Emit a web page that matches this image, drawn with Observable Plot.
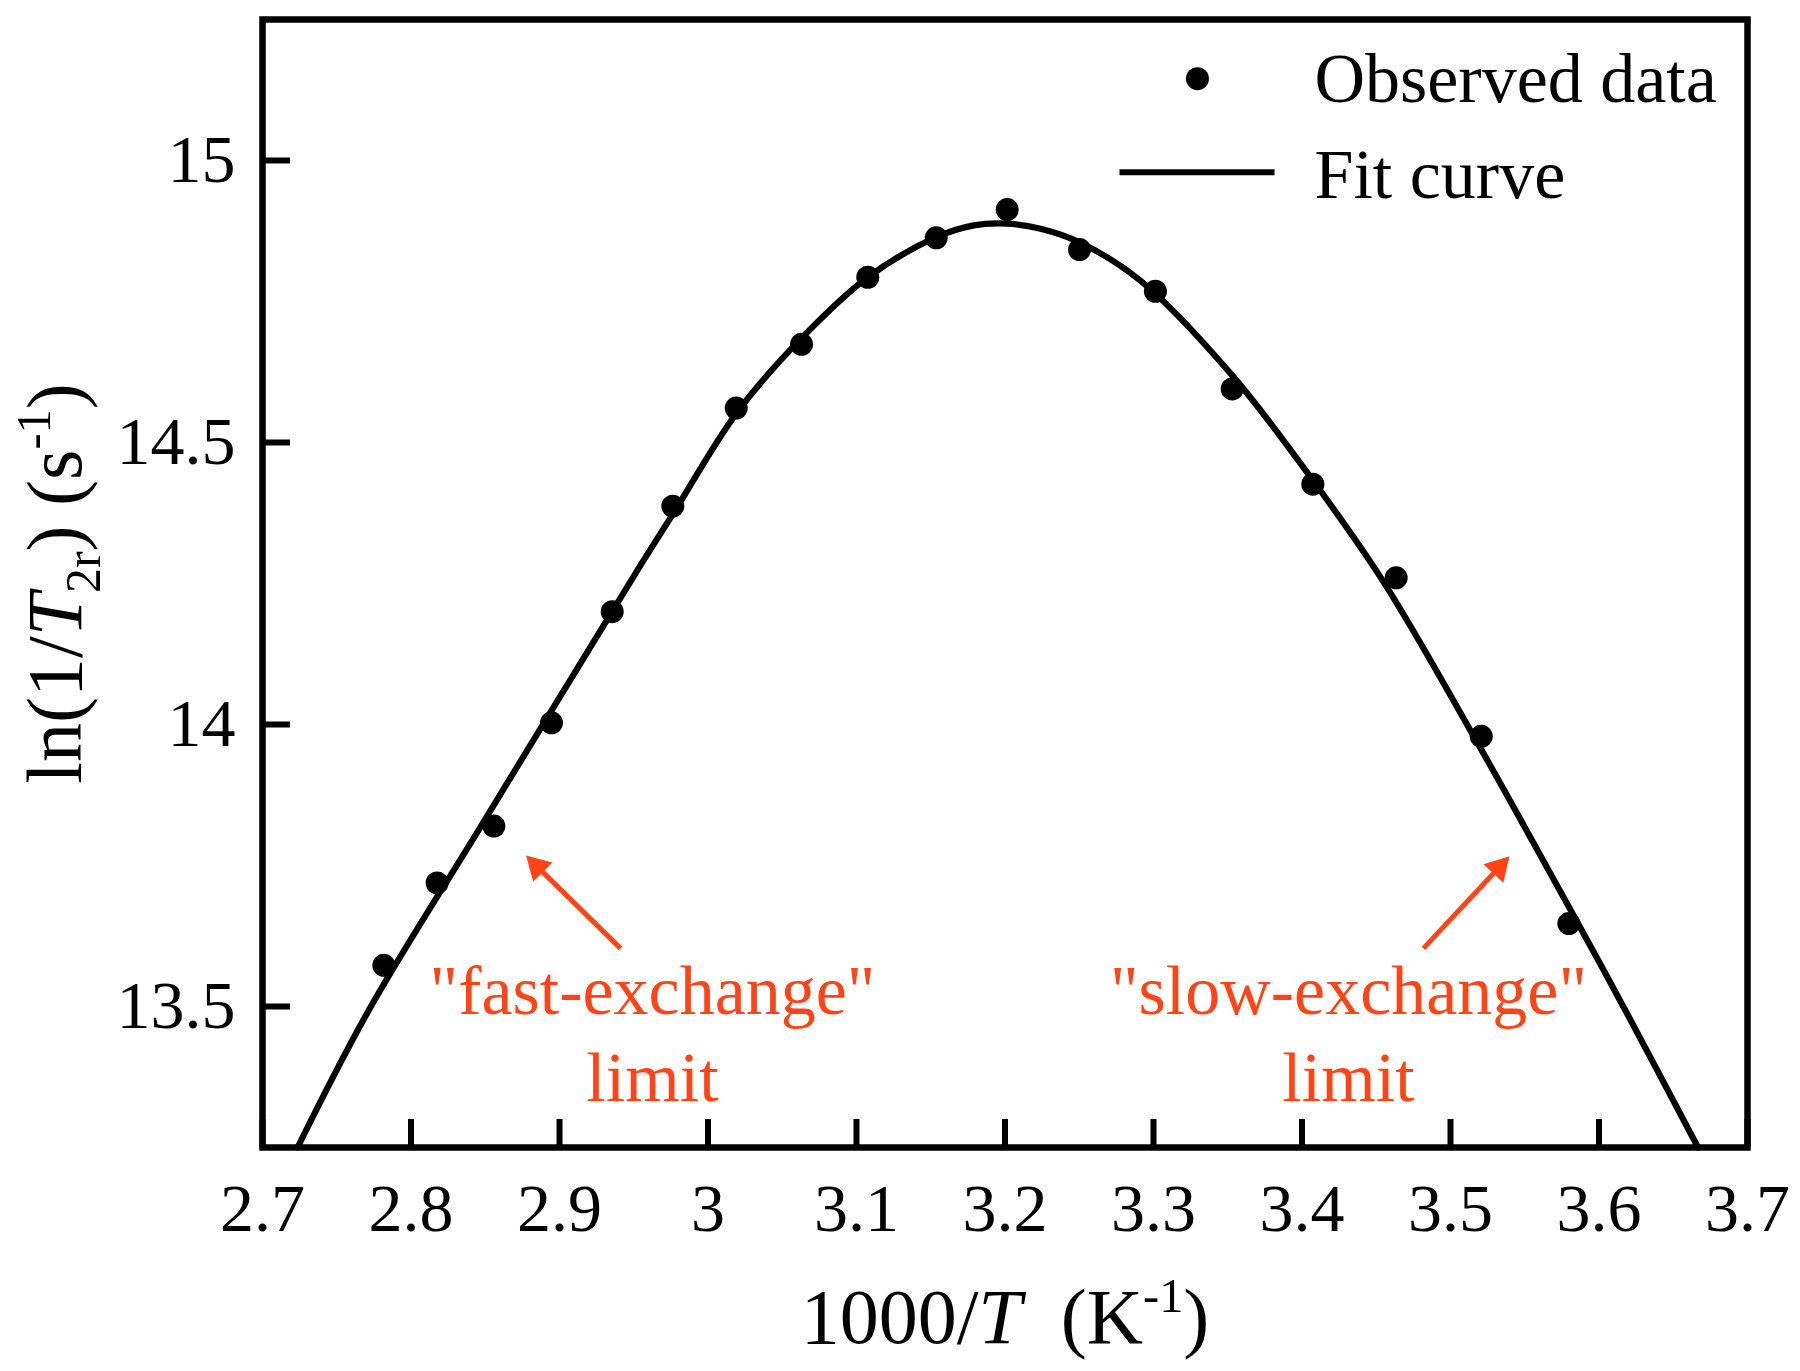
<!DOCTYPE html>
<html><head><meta charset="utf-8">
<script src="https://cdn.jsdelivr.net/npm/d3@7"></script>
<script src="https://cdn.jsdelivr.net/npm/@observablehq/plot@0.6"></script>
<style>html,body{margin:0;padding:0;background:#fff}#chart svg{display:block}</style>
</head><body><div id="chart"></div>
<script>
// Observed data (1000/T in K^-1, ln(1/T2r))
const obsX = [2.7817, 2.8176, 2.8558, 2.8946, 2.9355, 2.9763, 3.0190, 3.0630, 3.1076, 3.1537, 3.2015, 3.2502, 3.3013, 3.3530, 3.4073, 3.4634, 3.5207, 3.5797];
const obsY = [13.573, 13.719, 13.820, 14.003, 14.200, 14.387, 14.561, 14.674, 14.793, 14.863, 14.913, 14.842, 14.768, 14.595, 14.426, 14.260, 13.979, 13.647];
// Fit curve
const fitX = [2.7236, 2.7715, 2.8481, 2.9545, 2.9763, 3.0197, 3.0630, 3.1076, 3.1537, 3.1790, 3.2015, 3.2239, 3.2502, 3.2912, 3.3530, 3.4073, 3.4551, 3.5157, 3.5842, 3.6178, 3.6667];
const fitY = [13.250, 13.493, 13.824, 14.282, 14.373, 14.554, 14.685, 14.793, 14.864, 14.885, 14.888, 14.879, 14.855, 14.787, 14.619, 14.433, 14.252, 13.979, 13.655, 13.493, 13.250];
// Axes
const xTicks = [2.7, 2.8, 2.9, 3.0, 3.1, 3.2, 3.3, 3.4, 3.5, 3.6, 3.7];
const xTickLabels = ["2.7", "2.8", "2.9", "3", "3.1", "3.2", "3.3", "3.4", "3.5", "3.6", "3.7"];
const yTicks = [13.5, 14, 14.5, 15];
const yTickLabels = ["13.5", "14", "14.5", "15"];
// Legend
const legendLabels = ["Observed data", "Fit curve"];
const legendDotX = [3.3296], legendDotY = [15.145];
const legendLineX1 = [3.2771], legendLineX2 = [3.3815], legendLineY = [14.979];
const legendTextX = [3.4084, 3.4084], legendTextY = [15.144, 14.973];
// Annotations
const annotationTexts = ['"fast-exchange"\nlimit', '"slow-exchange"\nlimit'];
const annotationX = [2.9626, 3.4313];
const annotationY = [13.459, 13.459];
const arrowTailX = [2.9411, 3.4818], arrowTailY = [13.603, 13.603];
const arrowHeadX = [2.8850, 3.5325], arrowHeadY = [13.748, 13.746];
const arrowHeadAngle = [-45, 43];

const RED = "#ff4517";
const obs = obsX.map((x, i) => ({x, y: obsY[i]}));
const fit = fitX.map((x, i) => ({x, y: fitY[i]}));
const arrows = arrowTailX.map((x, i) => ({x1: x, y1: arrowTailY[i], x2: arrowHeadX[i], y2: arrowHeadY[i], rot: arrowHeadAngle[i]}));
const annotations = annotationTexts.map((t, i) => ({t, x: annotationX[i], y: annotationY[i]}));
const legendText = legendLabels.map((t, i) => ({t, x: legendTextX[i], y: legendTextY[i]}));

const FRAME_W = 1800 - 262 - 53, FRAME_H = 1371 - 19 - 224;

const chart = Plot.plot({
  width: 1800, height: 1371,
  marginLeft: 262, marginRight: 53, marginTop: 19, marginBottom: 224,
  style: {fontFamily: "'Liberation Serif', 'Times New Roman', serif", fontSize: "68px", background: "#fff", color: "#000"},
  x: {domain: [2.7, 3.7]},
  y: {domain: [13.25, 15.25]},
  marks: [
    Plot.ruleX(xTicks, {x: d => d, insetTop: FRAME_H - 28, stroke: "#000", strokeWidth: 6}),
    Plot.ruleY(yTicks, {y: d => d, insetRight: FRAME_W - 28, stroke: "#000", strokeWidth: 6}),
    Plot.axisX(xTicks, {tickSize: 0, tickPadding: 35, fontSize: 68, label: null, tickFormat: d => xTickLabels[xTicks.indexOf(d)]}),
    Plot.axisY(yTicks, {tickSize: 0, tickPadding: 27, fontSize: 68, label: null, tickFormat: d => yTickLabels[yTicks.indexOf(d)]}),
    Plot.line(fit, {x: "x", y: "y", curve: "catmull-rom", stroke: "#000", strokeWidth: 6.2}),
    Plot.dot(obs, {x: "x", y: "y", r: 11.5, fill: "#000"}),
    Plot.frame({stroke: "#000", strokeWidth: 6.5}),
    Plot.link(arrows, {x1: "x1", y1: "y1", x2: "x2", y2: "y2", stroke: RED, strokeWidth: 5}),
    Plot.dot(arrows, {x: "x2", y: "y2", symbol: "triangle2", r: 13, fill: RED, rotate: "rot"}),
    Plot.text(annotations, {x: "x", y: "y", text: "t", fill: RED, fontSize: 70, lineHeight: 1.24, lineAnchor: "middle"}),
    Plot.dot(legendDotX.map((x, i) => ({x, y: legendDotY[i]})), {x: "x", y: "y", r: 11.5, fill: "#000"}),
    Plot.link(legendLineX1.map((x, i) => ({x1: x, x2: legendLineX2[i], y: legendLineY[i]})), {x1: "x1", x2: "x2", y1: "y", y2: "y", stroke: "#000", strokeWidth: 6}),
    Plot.text(legendText, {x: "x", y: "y", text: "t", textAnchor: "start", fontSize: 70, fill: "#000"}),
    Plot.text(["1000/T  (K-1)"], {frameAnchor: "bottom", dy: 140, lineAnchor: "top", textAnchor: "middle", fontSize: 78, fill: "#000", className: "xlabel"}),
    Plot.text(["ln(1/T2r) (s-1)"], {frameAnchor: "left", dx: -206, rotate: -90, textAnchor: "middle", lineAnchor: "middle", fontSize: 78, fill: "#000", className: "ylabel"})
  ]
});
document.getElementById("chart").appendChild(chart);

// rich text (italic, sub/superscripts) for the axis titles
function rich(el, parts, fs) {
  while (el.firstChild) el.removeChild(el.firstChild);
  el.setAttribute("xml:space", "preserve");
  el.style.whiteSpace = "pre";
  let pending = 0;
  for (const p of parts) {
    const o = typeof p === "string" ? {t: p} : p;
    const ts = document.createElementNS("http://www.w3.org/2000/svg", "tspan");
    ts.textContent = o.t;
    let shift = 0;
    if (o.sup) { shift = -0.40 * fs; ts.setAttribute("font-size", 0.62 * fs); }
    if (o.sub) { shift = 0.24 * fs; ts.setAttribute("font-size", 0.64 * fs); }
    if (o.italic) ts.setAttribute("font-style", "italic");
    const dy = shift - pending;
    if (dy) ts.setAttribute("dy", dy);
    pending = shift;
    el.appendChild(ts);
  }
}
const xl = chart.querySelector("g.xlabel text");
if (xl) rich(xl, ["1000/", {t: "T", italic: true}, "  (K", {t: "-1", sup: true}, ")"], 78);
const yl = chart.querySelector("g.ylabel text");
if (yl) rich(yl, ["ln(1/", {t: "T", italic: true}, {t: "2r", sub: true}, ") (s", {t: "-1", sup: true}, ")"], 78);
</script>
</body></html>
